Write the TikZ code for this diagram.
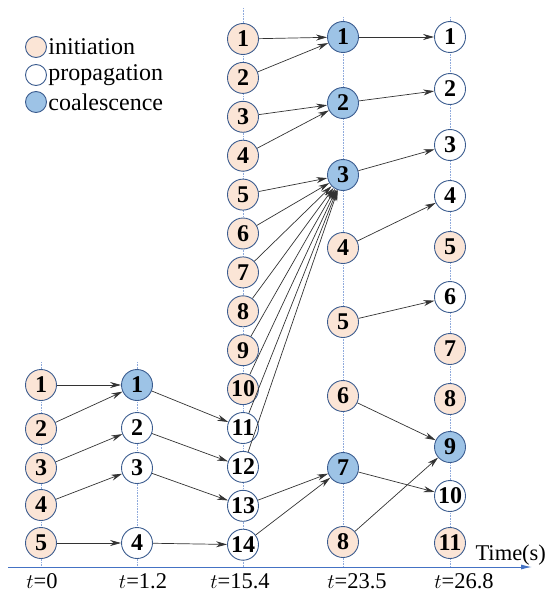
\documentclass[tikz,border=0pt]{standalone}
\usepackage{fontspec}
\setmainfont{Liberation Serif}
\usetikzlibrary{positioning}
\usetikzlibrary{arrows.meta}

\definecolor{initfill}{HTML}{FBE5D6}
\definecolor{coalfill}{HTML}{9DC3E6}
\definecolor{rim}{HTML}{3B5C8F}
\definecolor{gridblue}{HTML}{8FAADC}
\definecolor{axisblue}{HTML}{4472C4}

\tikzset{
  state/.style={circle,draw=rim,line width=0.9pt,minimum size=31pt,inner sep=0pt,
    font=\fontsize{24}{24}\selectfont\bfseries},
  init/.style={state,fill=initfill},
  prop/.style={state,fill=white},
  coal/.style={state,fill=coalfill},
  keydot/.style={circle,draw=rim,line width=0.9pt,minimum size=21pt,inner sep=0pt},
  keytext/.style={font=\fontsize{24}{24}\selectfont},
  flow/.style={-{Stealth[length=11pt,width=6pt]},draw=black!80,line width=0.7pt},
  timeline/.style={draw=gridblue,densely dotted,line width=0.6pt},
  timetext/.style={font=\fontsize{22.5}{22.5}\selectfont},
}

\begin{document}
\begin{tikzpicture}[x=1pt,y=-1pt]
\useasboundingbox (0,0) rectangle (550,594);

% time lines
\draw[timeline] (41,362) -- (41,567);
\draw[timeline] (137,362) -- (137,567);
\draw[timeline] (243,8) -- (243,567);
\draw[timeline] (343,17) -- (343,567);
\draw[timeline] (450,17) -- (450,567);
\draw[-{Latex[length=11pt,width=5pt]},draw=axisblue,line width=1pt] (8,567) -- (532,567);

% t=0
\node[init] (a1) at (41,385) {1};
\node[init] (a2) at (41,429) {2};
\node[init] (a3) at (41,468) {3};
\node[init] (a4) at (41,505) {4};
\node[init] (a5) at (41,543) {5};

% t=1.2
\node[coal] (b1) at (137,385) {1};
\node[prop] (b2) at (137,428) {2};
\node[prop] (b3) at (137,468) {3};
\node[prop] (b4) at (137,543) {4};

% t=15.4
\foreach \i in {1,...,10}
  \node[init] (c\i) at (243,{39+38.9*(\i-1)}) {\i};
\foreach \i in {11,...,14}
  \node[prop] (c\i) at (243,{39+38.9*(\i-1)}) {\i};

% t=23.5
\node[coal] (d1) at (343,37) {1};
\node[coal] (d2) at (343,103) {2};
\node[coal] (d3) at (343,175) {3};
\node[init] (d4) at (343,248) {4};
\node[init] (d5) at (343,322) {5};
\node[init] (d6) at (343,396) {6};
\node[coal] (d7) at (343,468) {7};
\node[init] (d8) at (343,542) {8};

% t=26.8
\node[prop] (e1) at (450,37) {1};
\node[prop] (e2) at (450,89) {2};
\node[prop] (e3) at (450,145) {3};
\node[prop] (e4) at (450,196) {4};
\node[init] (e5) at (450,247) {5};
\node[prop] (e6) at (450,297) {6};
\node[init] (e7) at (450,349) {7};
\node[init] (e8) at (450,399) {8};
\node[coal] (e9) at (450,447) {9};
\node[prop] (e10) at (450,496) {10};
\node[init] (e11) at (450,543) {11};

% links
\draw[flow] (a1) -- (b1);
\draw[flow] (a2) -- (b1);
\draw[flow] (a3) -- (b2);
\draw[flow] (a4) -- (b3);
\draw[flow] (a5) -- (b4);
\draw[flow] (b1) -- (c11);
\draw[flow] (b2) -- (c12);
\draw[flow] (b3) -- (c13);
\draw[flow] (b4) -- (c14);
\draw[flow] (c1) -- (d1);
\draw[flow] (c2) -- (d1);
\draw[flow] (c3) -- (d2);
\draw[flow] (c4) -- (d2);
\foreach \i in {5,...,12}
  \draw[flow] (c\i) -- (d3);
\draw[flow] (c13) -- (d7);
\draw[flow] (c14) -- (d7);
\draw[flow] (d1) -- (e1);
\draw[flow] (d2) -- (e2);
\draw[flow] (d3) -- (e3);
\draw[flow] (d4) -- (e4);
\draw[flow] (d5) -- (e6);
\draw[flow] (d6) -- (e9);
\draw[flow] (d7) -- (e10);
\draw[flow] (d8) -- (e9);

% legend
\node[keydot,fill=initfill] (k1) at (36,47) {};
\node[keydot,fill=white] (k2) at (36,75) {};
\node[keydot,fill=coalfill] (k3) at (36,102) {};
\node[right=-2pt of k1,keytext] {initiation};
\node[right=-2pt of k2,keytext] {propagation};
\node[right=-2pt of k3,keytext] {coalescence};

% axis labels
\node[anchor=base west,timetext] (time) at (472,560) {Time(s)};
\node[timetext] (l0) at (42,581) {$t$=0};
\node[timetext] (l1) at (143,581) {$t$=1.2};
\node[timetext] (l2) at (240,581) {$t$=15.4};
\node[timetext] (l3) at (357,581) {$t$=23.5};
\node[timetext] (l4) at (464,581) {$t$=26.8};
\end{tikzpicture}
\end{document}
